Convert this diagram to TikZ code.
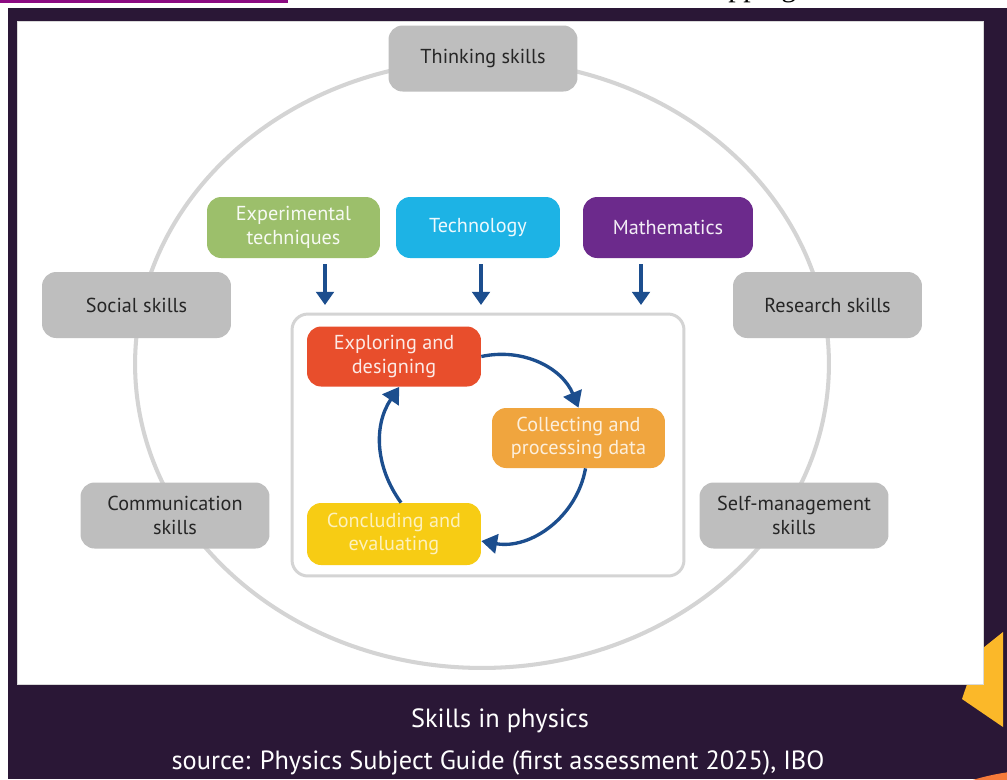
\documentclass[tikz,border=0pt]{standalone}
\usepackage{fontspec}
\setmainfont{PT Sans}
\newfontfamily\cutfont{Liberation Serif}
\usetikzlibrary{arrows.meta, positioning}
\definecolor{PageDark}{HTML}{2A1736}
\definecolor{BarPurple}{HTML}{8C0A82}
\definecolor{SkillGray}{HTML}{BEBEBE}
\definecolor{SkillText}{HTML}{262626}
\definecolor{RingGray}{HTML}{D4D4D4}
\definecolor{ExpGreen}{HTML}{9CBF6B}
\definecolor{TechCyan}{HTML}{1DB3E5}
\definecolor{MathPurple}{HTML}{6C2A8C}
\definecolor{ExploreRed}{HTML}{E84E2C}
\definecolor{CollectOrange}{HTML}{F0A53E}
\definecolor{ConcludeYellow}{HTML}{F7CC14}
\definecolor{ArrowBlue}{HTML}{1C4E8E}
\definecolor{CornerYellow}{HTML}{FBB829}
\definecolor{CornerOrange}{HTML}{F57A3A}
\newcommand{\boxfont}{\fontsize{11.5}{13.5}\selectfont}
\newcommand{\capfont}{\fontsize{15}{17}\selectfont}
\tikzset{skill/.style={rectangle, rounded corners=8pt, fill=SkillGray, text=SkillText, minimum width=3.78cm, minimum height=1.32cm, align=center, font=\boxfont}}
\tikzset{tool/.style={rectangle, rounded corners=8pt, minimum height=1.22cm, align=center, font=\boxfont}}
\tikzset{stage/.style={rectangle, rounded corners=8pt, minimum width=3.48cm, minimum height=1.2cm, align=center, font=\boxfont}}
\tikzset{next/.style={-{Triangle[length=7.5pt, width=10pt]}, line width=1.9pt, color=ArrowBlue}}
\tikzset{turn/.style={-{Triangle[length=9pt, width=11pt]}, line width=1.9pt, color=ArrowBlue}}

\begin{document}
\begin{tikzpicture}[x=0.02cm, y=-0.02cm]

  \useasboundingbox (0,0) rectangle (1007,779);

  % --- page around the figure ---
  \fill[white] (0,0) rectangle (1007,779);
  \fill[BarPurple] (0,0) rectangle (288,3);
  \begin{scope}
    \clip (0,0) rectangle (1007,8);
    \node[anchor=base west, inner sep=0pt, font=\cutfont\fontsize{17}{17}\selectfont] (topcut) at (728,-4) {pping};
  \end{scope}
  \fill[PageDark] (8,8) rectangle (1007,779);
  \begin{scope}
    \clip (8,8) rectangle (1007,779);
    \fill[CornerYellow] (1003,632) -- (978,652) -- (962,699) -- (1003,727) -- cycle;
    \fill[CornerOrange] (1040,1000) circle[radius=230];
  \end{scope}
  \filldraw[fill=white, draw=gray!30, line width=0.4pt] (17,21) rectangle (983,684);

  % --- outer ring ---
  \draw[RingGray, line width=2.3pt] (482,364) ellipse[x radius=6.94cm, y radius=6.08cm];

  % --- outer skills ---
  \node[skill] (think) at (483,58.5) {Thinking skills};
  \node[skill] (social) at (136.5,305) {Social skills};
  \node[skill] (research) at (827.5,305) {Research skills};
  \node[skill] (comm) at (175,515.5) {Communication\\skills};
  \node[skill] (selfman) at (794,515.5) {Self-management\\skills};

  % --- tools ---
  \node[tool, fill=ExpGreen, text=white!92!ExpGreen, minimum width=3.46cm] (exper) at (293.5,227.5) {Experimental\\techniques};
  \node[tool, fill=TechCyan, text=white!92!TechCyan, minimum width=3.28cm] (tech) at (478,227.5) {Technology};
  \node[tool, fill=MathPurple, text=white!92!MathPurple, minimum width=3.4cm] (maths) at (668,227.5) {Mathematics};

  % --- inner frame ---
  \node[rectangle, rounded corners=9pt, draw=RingGray, line width=1.7pt, fill=white, minimum width=7.84cm, minimum height=5.24cm] (frame) at (488,445) {};

  \coordinate (ina) at (325,264);
  \coordinate (inb) at (481,264);
  \coordinate (inc) at (641,264);
  \draw[next] (ina) -- +(0,41);
  \draw[next] (inb) -- +(0,41);
  \draw[next] (inc) -- +(0,41);

  % --- cycle ---
  \node[stage, fill=ExploreRed, text=white!88!ExploreRed] (explore) at (394,356.5) {Exploring and\\designing};
  \node[stage, fill=CollectOrange, text=white!82!CollectOrange, minimum width=3.46cm] (collect) at (578.5,438) {Collecting and\\processing data};
  \node[stage, fill=ConcludeYellow, text=white!72!ConcludeYellow, minimum height=1.24cm] (conclude) at (394,534) {Concluding and\\evaluating};

  \draw[turn] (explore.east) to[bend left=40] (collect.north);
  \draw[turn] ([xshift=4pt]collect.south) to[bend left=45] ([yshift=-4pt]conclude.east);
  \draw[turn] ([xshift=4pt]conclude.north) to[bend left=35] ([xshift=3pt]explore.south);

  % --- caption ---
  \node[text=white, font=\capfont] (title) at (500,721) {Skills in physics};
  \node[text=white, font=\capfont] (source) at (498,763) {source: Physics Subject Guide (first assessment 2025), IBO};

\end{tikzpicture}
\end{document}
